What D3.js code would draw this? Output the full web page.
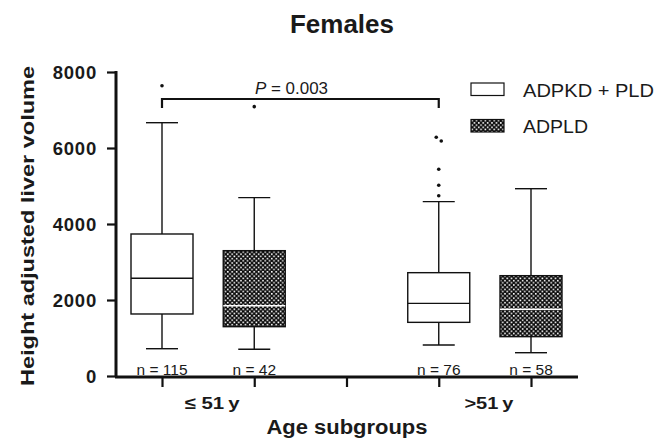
<!DOCTYPE html>
<html>
<head>
<meta charset="utf-8">
<script src="https://cdn.jsdelivr.net/npm/d3@7"></script>
<style>
  body { margin: 0; background: #fff; }
  text { font-family: Arial, "Liberation Sans", sans-serif; fill: #1a1a1a; }
</style>
</head>
<body>
<div class="stage"></div>
<script>
// age groups and series
var groups = ["\u2264 51\u2009y", ">51\u2009y"];
var series = ["ADPKD + PLD", "ADPLD"];

// box stats in order: <=51 PKD, <=51 PLD, >51 PKD, >51 PLD
var whiskerLow = [718, 703, 816, 613];
var q1 = [1632, 1298, 1412, 1035];
var median = [2571, 1850, 1912, 1755];
var q3 = [3737, 3298, 2719, 2640];
var whiskerHigh = [6666, 4693, 4588, 4929];
var outliers = [[7640], [7088], [6281, 6184, 5439, 5018, 4745], []];
var nCounts = [115, 42, 76, 58];
var yTicks = [0, 2000, 4000, 6000, 8000];

var svg = d3.select(".stage").append("svg").attr("width", 666).attr("height", 439);

// checker pattern for ADPLD
var defs = svg.append("defs");
var pat = defs.append("pattern").attr("id", "checker")
  .attr("patternUnits", "userSpaceOnUse").attr("width", 4.4).attr("height", 4.4);
pat.append("rect").attr("width", 4.4).attr("height", 4.4).attr("fill", "#0a0a0a");
pat.append("rect").attr("x", 0.4).attr("y", 0.4).attr("width", 1.6).attr("height", 1.6).attr("fill", "#fff");
pat.append("rect").attr("x", 2.6).attr("y", 2.6).attr("width", 1.6).attr("height", 1.6).attr("fill", "#fff");

var y = d3.scaleLinear().domain([0, 8000]).range([376, 72]);
// slot 0..4 along the x axis (slot 2 is the gap between groups)
var x = d3.scaleLinear().domain([0, 4]).range([162, 531]);
var slot = function(i){ return Math.floor(i / 2) * 3 + (i % 2); };

// y axis
var yAxis = svg.append("g").attr("transform", "translate(116,0)")
  .call(d3.axisLeft(y).tickValues(yTicks).tickSize(9).tickPadding(10).tickFormat(d3.format("d")));
yAxis.select(".domain").remove();
yAxis.selectAll(".tick line").attr("stroke", "#111").attr("stroke-width", 2.2);
yAxis.selectAll("text").style("font-size", "18.5px").style("font-weight", "bold")
  .style("letter-spacing", "0.8px").attr("dy", "0.36em");
svg.append("line").attr("x1", 116).attr("x2", 116).attr("y1", y(8000) - 1).attr("y2", y(0) + 1)
  .attr("stroke", "#111").attr("stroke-width", 3);

// x axis
var xAxis = svg.append("g").attr("transform", "translate(0,377)")
  .call(d3.axisBottom(x).tickValues([0, 1, 2, 3, 4]).tickSize(10).tickFormat(""));
xAxis.select(".domain").remove();
xAxis.selectAll(".tick line").attr("stroke", "#111").attr("stroke-width", 2.2);
svg.append("line").attr("x1", 115).attr("x2", 578).attr("y1", 377).attr("y2", 377)
  .attr("stroke", "#111").attr("stroke-width", 3);

// boxes
var idx = d3.range(4);
var bw = 62, cw = 32;
var box = svg.selectAll("g.box").data(idx).enter().append("g").attr("class", "box");
box.append("line").attr("x1", function(i){ return x(slot(i)); }).attr("x2", function(i){ return x(slot(i)); })
  .attr("y1", function(i){ return y(whiskerLow[i]); }).attr("y2", function(i){ return y(whiskerHigh[i]); })
  .attr("stroke", "#111").attr("stroke-width", 1.4);
[whiskerLow, whiskerHigh].forEach(function(arr){
  box.append("line").attr("x1", function(i){ return x(slot(i)) - cw / 2; }).attr("x2", function(i){ return x(slot(i)) + cw / 2; })
    .attr("y1", function(i){ return y(arr[i]); }).attr("y2", function(i){ return y(arr[i]); })
    .attr("stroke", "#111").attr("stroke-width", 1.4);
});
box.append("rect").attr("x", function(i){ return x(slot(i)) - bw / 2; }).attr("width", bw)
  .attr("y", function(i){ return y(q3[i]); }).attr("height", function(i){ return y(q1[i]) - y(q3[i]); })
  .attr("fill", function(i){ return i % 2 ? "url(#checker)" : "#fff"; })
  .attr("stroke", "#111").attr("stroke-width", 1.4);
box.append("line").attr("x1", function(i){ return x(slot(i)) - bw / 2; }).attr("x2", function(i){ return x(slot(i)) + bw / 2; })
  .attr("y1", function(i){ return y(median[i]); }).attr("y2", function(i){ return y(median[i]); })
  .attr("stroke", function(i){ return i % 2 ? "#fff" : "#111"; }).attr("stroke-width", 1.4);
box.each(function(i){
  d3.select(this).selectAll("circle").data(outliers[i]).enter().append("circle")
    .attr("cx", function(v, k){ return x(slot(i)) + (outliers[i].length > 1 && k < 2 ? (k ? 2.5 : -2.5) : 0); })
    .attr("cy", function(v){ return y(v); }).attr("r", 1.8).attr("fill", "#111");
});
box.append("text").attr("x", function(i){ return x(slot(i)); }).attr("y", 374.5)
  .attr("text-anchor", "middle").style("font-size", "15.5px")
  .text(function(i){ return "n = " + nCounts[i]; });

// group labels
var grpLen = [55, 49];
svg.selectAll("text.grp").data(groups).enter().append("text").attr("class", "grp")
  .attr("x", function(d, g){ return (x(g * 3) + x(g * 3 + 1)) / 2 + 4; }).attr("y", 409)
  .attr("text-anchor", "middle").style("font-size", "17px").style("font-weight", "bold")
  .attr("textLength", function(d, g){ return grpLen[g]; }).attr("lengthAdjust", "spacingAndGlyphs")
  .text(function(d){ return d; });

svg.append("text").attr("x", 347).attr("y", 434).attr("text-anchor", "middle")
  .style("font-size", "19.5px").style("font-weight", "bold")
  .attr("textLength", 161).attr("lengthAdjust", "spacingAndGlyphs").text("Age subgroups");

svg.append("text").attr("transform", "translate(34,226) rotate(-90)").attr("text-anchor", "middle")
  .style("font-size", "18px").style("font-weight", "bold")
  .attr("textLength", 320).attr("lengthAdjust", "spacingAndGlyphs").text("Height adjusted liver volume");

svg.append("text").attr("x", 342).attr("y", 33).attr("text-anchor", "middle")
  .style("font-size", "26px").style("font-weight", "bold")
  .attr("textLength", 104).attr("lengthAdjust", "spacingAndGlyphs").text("Females");

// significance bracket
var bx1 = x(0), bx2 = x(3), by = 99;
svg.append("path").attr("d", "M" + bx1 + "," + (by + 9) + "V" + by + "H" + bx2 + "V" + (by + 9))
  .attr("fill", "none").attr("stroke", "#111").attr("stroke-width", 2.2);
var pt = svg.append("text").attr("x", 291.5).attr("y", 94).attr("text-anchor", "middle")
  .style("font-size", "16.5px").attr("textLength", 73).attr("lengthAdjust", "spacingAndGlyphs");
pt.append("tspan").style("font-style", "italic").text("P");
pt.append("tspan").text(" = 0.003");

// legend
var legLen = [131, 65];
var leg = svg.selectAll("g.leg").data(series).enter().append("g").attr("class", "leg")
  .attr("transform", function(d, i){ return "translate(471," + (83 + i * 36.5) + ")"; });
leg.append("rect").attr("width", 33).attr("height", 12.5)
  .attr("fill", function(d, i){ return i ? "url(#checker)" : "#fff"; })
  .attr("stroke", "#111").attr("stroke-width", 1.2);
leg.append("text").attr("x", 52).attr("y", 13.5).style("font-size", "18px")
  .attr("textLength", function(d, i){ return legLen[i]; }).attr("lengthAdjust", "spacingAndGlyphs")
  .text(function(d){ return d; });
</script>
</body>
</html>
